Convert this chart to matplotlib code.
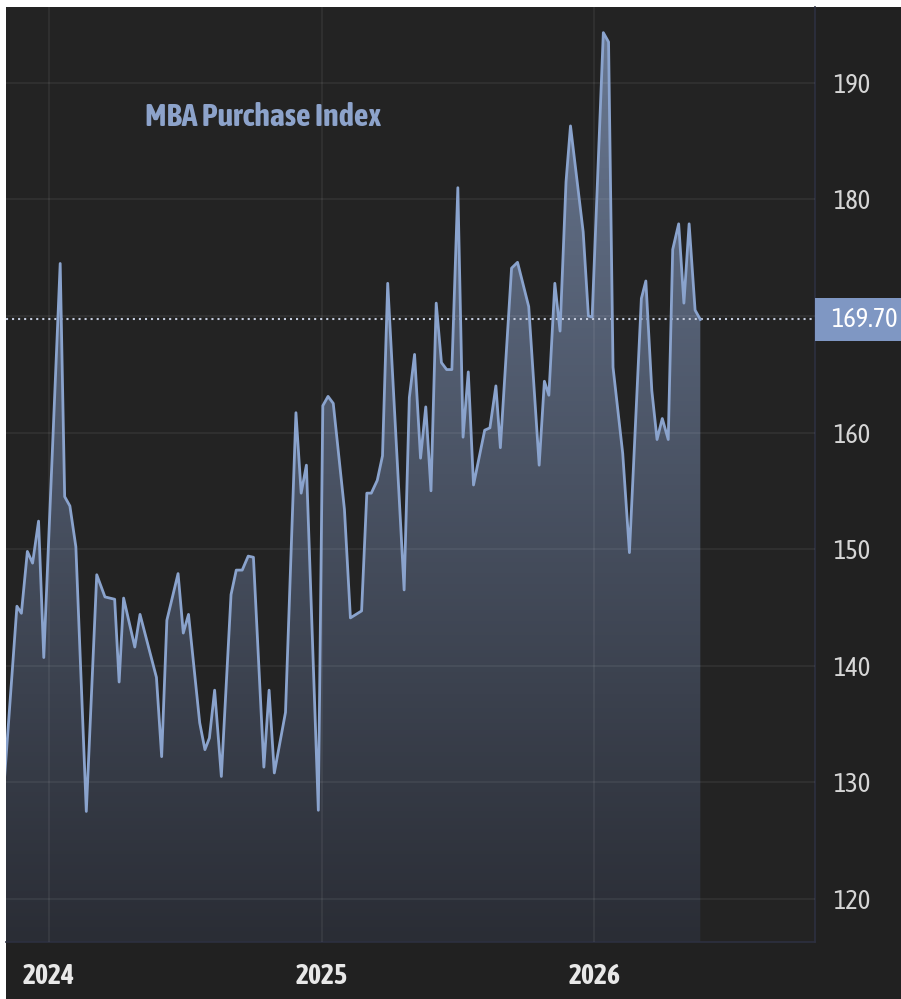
"""
MBA Purchase Index, weekly, dark area chart with gradient fill.
"""
import matplotlib
matplotlib.use("Agg")
import matplotlib.pyplot as plt
import matplotlib.dates as mdates
import matplotlib.transforms as mtransforms
from matplotlib import font_manager
from matplotlib.patches import Rectangle
from matplotlib.colors import LinearSegmentedColormap
import numpy as np
import pandas as pd

# values (turning points of the line)
dates = [
    "2023-11-02", "2023-11-19", "2023-11-25", "2023-12-03", "2023-12-10", "2023-12-18",
    "2023-12-25", "2024-01-16", "2024-01-22", "2024-01-29", "2024-02-06", "2024-02-20",
    "2024-03-05", "2024-03-16", "2024-03-29", "2024-04-04", "2024-04-10", "2024-04-25",
    "2024-05-02", "2024-05-24", "2024-05-31", "2024-06-07", "2024-06-22", "2024-06-29",
    "2024-07-06", "2024-07-21", "2024-07-28", "2024-08-03", "2024-08-10", "2024-08-19",
    "2024-09-01", "2024-09-08", "2024-09-16", "2024-09-24", "2024-10-01", "2024-10-15",
    "2024-10-22", "2024-10-29", "2024-11-13", "2024-11-27", "2024-12-04", "2024-12-11",
    "2024-12-27", "2025-01-02", "2025-01-09", "2025-01-16", "2025-01-31", "2025-02-08",
    "2025-02-23", "2025-03-02", "2025-03-08", "2025-03-16", "2025-03-23", "2025-03-30",
    "2025-04-21", "2025-04-28", "2025-05-05", "2025-05-13", "2025-05-20", "2025-05-27",
    "2025-06-03", "2025-06-10", "2025-06-17", "2025-06-24", "2025-07-02", "2025-07-09",
    "2025-07-16", "2025-07-23", "2025-08-07", "2025-08-14", "2025-08-22", "2025-08-28",
    "2025-09-12", "2025-09-20", "2025-10-05", "2025-10-19", "2025-10-26", "2025-11-01",
    "2025-11-09", "2025-11-16", "2025-11-24", "2025-11-30", "2025-12-17", "2025-12-24",
    "2025-12-29", "2026-01-13", "2026-01-20", "2026-01-26", "2026-02-08", "2026-02-17",
    "2026-03-05", "2026-03-11", "2026-03-19", "2026-03-26", "2026-04-02", "2026-04-10",
    "2026-04-16", "2026-04-24", "2026-05-01", "2026-05-08", "2026-05-16", "2026-05-23",
]
values = [
    130.0, 145.1, 144.5, 149.8, 148.8, 152.4,
    140.7, 174.5, 154.5, 153.7, 150.2, 127.5,
    147.8, 145.9, 145.7, 138.6, 145.8, 141.6,
    144.4, 139.0, 132.2, 143.9, 147.9, 142.8,
    144.4, 135.1, 132.8, 133.8, 137.9, 130.5,
    146.1, 148.2, 148.2, 149.4, 149.3, 131.3,
    137.9, 130.8, 136.0, 161.7, 154.8, 157.2,
    127.6, 162.3, 163.1, 162.5, 153.4, 144.1,
    144.7, 154.8, 154.8, 155.9, 158.0, 172.8,
    146.5, 163.0, 166.7, 157.8, 162.2, 155.0,
    171.1, 166.0, 165.4, 165.4, 181.0, 159.6,
    165.2, 155.5, 160.2, 160.4, 164.0, 158.7,
    174.1, 174.6, 170.8, 157.2, 164.4, 163.2,
    172.8, 168.7, 181.5, 186.3, 177.2, 170.0,
    169.9, 194.3, 193.5, 165.6, 158.2, 149.7,
    171.5, 173.0, 163.6, 159.4, 161.2, 159.4,
    175.7, 177.9, 171.1, 177.9, 170.5, 169.7,
]
last_value = 169.70
title = "MBA Purchase Index"
y_ticks = [120, 130, 140, 150, 160, 170, 180, 190]
year_ticks = ["2024-01-01", "2025-01-01", "2026-01-01"]
year_labels = ["2024", "2025", "2026"]

BG = "#212121"
PLOT_BG = "#232323"
LINE = "#8aa3cd"


def weight_num(w):
    if isinstance(w, str):
        return font_manager.weight_dict.get(w, 400)
    return w


# the reference uses a narrow face; prefer a condensed family that has a bold cut
bold_ok = {f.name for f in font_manager.fontManager.ttflist if weight_num(f.weight) >= 600}
names = sorted({f.name for f in font_manager.fontManager.ttflist})
narrow = [n for n in names if ("Condensed" in n or "Narrow" in n) and n in bold_ok]
if not narrow:
    narrow = [n for n in names if "Condensed" in n or "Narrow" in n]
if narrow:
    FONT = [narrow[0], "DejaVu Sans"]
    sizes = dict(title=23, ytick=19, xtick=20, tag=19)
else:
    FONT = ["Roboto", "DejaVu Sans"]
    sizes = dict(title=18, ytick=16, xtick=18, tag=16)
plt.rcParams["font.family"] = FONT

W, H = 901, 999
fig = plt.figure(figsize=(W / 100, H / 100), dpi=100, facecolor="white")
fig.patches.append(Rectangle((6 / W, 0), 1 - 6 / W, 1 - 7 / H, transform=fig.transFigure,
                             facecolor=BG, edgecolor="none", zorder=-10))
ax = fig.add_axes([6 / W, 57 / H, 809 / W, 935 / H])
ax.set_facecolor(PLOT_BG)

x = pd.to_datetime(dates)
ymin, ymax = 116.3, 196.5

# x range: 2024-01-01 sits 43px in, 272.5px per year
base = mdates.date2num(pd.Timestamp("2024-01-01"))
day_px = 365.25 / 272.5
x0, x1 = base - 43 * day_px, base + 766 * day_px

# gradient fill under the line
poly = ax.fill_between(x, values, ymin - 5, facecolor="none", edgecolor="none")
cmap = LinearSegmentedColormap.from_list("fade", ["#2a2d35", "#6a7993"])
grad = np.linspace(1, 0, 256).reshape(-1, 1)
img = ax.imshow(grad, cmap=cmap, aspect="auto", extent=[x0, x1, ymin, ymax],
                origin="upper", zorder=1)
img.set_clip_path(poly.get_paths()[0], transform=ax.transData)

ax.plot(x, values, color=LINE, lw=2.0, solid_joinstyle="round", zorder=4)
ax.axhline(last_value, color="#c3cbdd", lw=1.5, ls=(0, (1, 1.9)), zorder=3)

ax.set_xlim(x0, x1)
ax.set_ylim(ymin, ymax)

ax.grid(True, color="white", alpha=0.07, lw=1.2)
ax.set_axisbelow(False)

# the 170 label sits under the last-value tag
ax.yaxis.tick_right()
ax.set_yticks(y_ticks, [str(t) if t != 170 else "" for t in y_ticks])
ax.tick_params(axis="y", length=0, pad=13, labelsize=sizes["ytick"], labelcolor="#d6d6d6")
ax.set_xticks(pd.to_datetime(year_ticks), year_labels, fontweight="bold")
ax.tick_params(axis="x", length=0, pad=15, labelsize=sizes["xtick"], labelcolor="#e8e8e8")

for side in ["top", "left"]:
    ax.spines[side].set_visible(False)
for side in ["right", "bottom"]:
    ax.spines[side].set_color("#2d3040")
    ax.spines[side].set_linewidth(1.2)

# last value tag on the right axis
trans = mtransforms.blended_transform_factory(ax.transAxes, ax.transData)
ax.add_patch(Rectangle((1.0, last_value - 1.85), 86 / 809, 3.7, transform=trans,
                       facecolor="#7f97c3", edgecolor="none", clip_on=False, zorder=5))
ax.text(1.0 + 16 / 809, last_value, f"{last_value:.2f}", transform=trans,
        ha="left", va="center", fontsize=sizes["tag"], color="white", zorder=6)

ax.text((145 - 6) / 809, (942 - 118) / 935, title, transform=ax.transAxes,
        ha="left", va="center", fontsize=sizes["title"], fontweight="bold",
        color="#8da3cb", zorder=6)

fig.savefig("out.png", dpi=100, facecolor=fig.get_facecolor())
